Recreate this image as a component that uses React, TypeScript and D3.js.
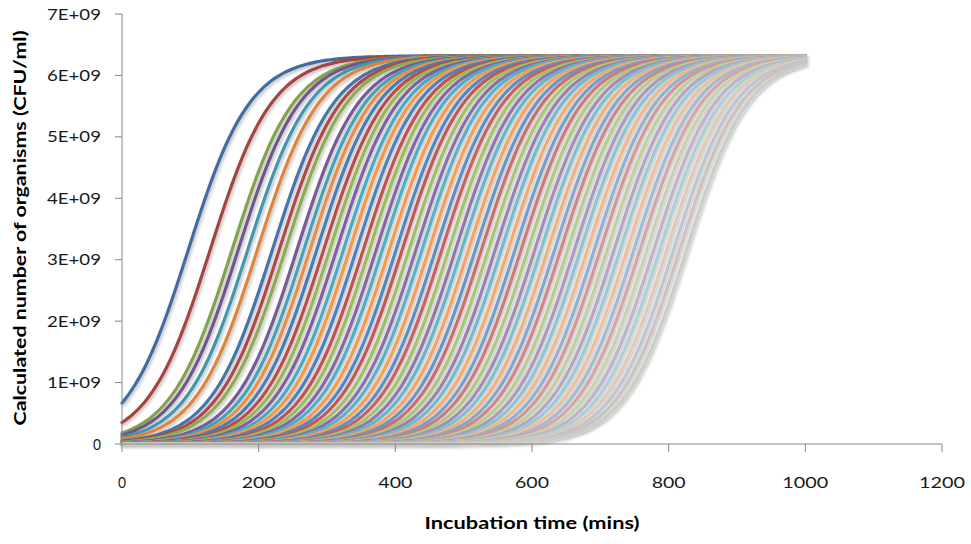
import React from "react";
import * as d3 from "d3";

const W = 971;
const H = 544;

// Axis ticks and labels
const xTicks = [0, 200, 400, 600, 800, 1000, 1200];
const xTickLabels = ["0", "200", "400", "600", "800", "1000", "1200"];
const yTicks = [0, 1e9, 2e9, 3e9, 4e9, 5e9, 6e9, 7e9];
const yTickLabels = ["0", "1E+09", "2E+09", "3E+09", "4E+09", "5E+09", "6E+09", "7E+09"];

// Growth model parameters
const capacity = 6.32e9; // plateau (CFU/ml)
const growthRate = 0.022; // per minute
const timeStart = 0;
const timeEnd = 1000;
const timeStep = 5;

// Time (mins) at which each curve reaches half of the plateau
const midpoints = [
  97, 129, 161, 170, 184, 198, 220, 230, 239, 256,
  266, 275, 285, 295, 304, 314, 324, 333, 343, 353,
  362, 372, 381, 391, 401, 410, 420, 430, 439, 449,
  459, 468, 478, 488, 497, 507, 517, 526, 536, 546,
  555, 565, 575, 584, 594, 604, 613, 623, 633, 642,
  652, 662, 671, 681, 691, 700, 710, 720, 729, 739,
  749, 758, 768, 778, 787, 797, 807, 816, 826,
];

const palette = ["#4F81BD", "#C0504D", "#9BBB59", "#8064A2", "#4BACC6", "#F79646"];

const xScale = d3.scaleLinear().domain([0, 1200]).range([122, 942]);
const yScale = d3.scaleLinear().domain([0, 7e9]).range([444, 14]);

const times = d3.range(timeStart, timeEnd + 0.001, timeStep);

function seriesValues(mid: number) {
  return times.map((t) => ({
    t,
    v: capacity / (1 + Math.exp(-growthRate * (t - mid))),
  }));
}

function colorFor(i: number, n: number) {
  const base = palette[i % palette.length];
  const t = i / (n - 1);
  if (t < 0.25) return d3.interpolateRgb(base, "#000000")(0.16 * (1 - t / 0.25));
  const f = Math.pow((t - 0.25) / 0.75, 1.3) * 0.72;
  const c = d3.interpolateRgb(base, "#e2e2e2")(f);
  if (t > 0.93) return d3.interpolateRgb(c, "#c8c8c8")((t - 0.93) / 0.07 * 0.7);
  return c;
}

const line = d3
  .line<{ t: number; v: number }>()
  .x((d) => xScale(d.t))
  .y((d) => yScale(d.v))
  .curve(d3.curveMonotoneX);

const FONT = "Lato, 'Open Sans', 'Liberation Sans', sans-serif";

export default function App() {
  const n = midpoints.length;
  const axisColor = "#868686";
  const x0 = xScale(0);
  const y0 = yScale(0);
  return (
    <svg
      width={W}
      height={H}
      viewBox={`0 0 ${W} ${H}`}
      style={{ position: "absolute", left: 0, top: 0, background: "#fff" }}
    >
      <defs>
        <filter id="shadow" x="-5%" y="-5%" width="110%" height="115%">
          <feDropShadow dx="1.5" dy="2" stdDeviation="1.6" floodColor="#000" floodOpacity="0.25" />
        </filter>
      </defs>
      <rect x={0} y={0} width={W} height={H} fill="#fff" />

      {/* curves */}
      <g filter="url(#shadow)">
        {midpoints.map((m, i) => (
          <path
            key={i}
            d={line(seriesValues(m)) || ""}
            fill="none"
            stroke={colorFor(i, n)}
            strokeWidth={3.2}
            strokeLinecap="round"
            strokeLinejoin="round"
          />
        ))}
      </g>

      {/* y axis */}
      <line x1={x0} x2={x0} y1={yScale(7e9)} y2={y0} stroke={axisColor} strokeWidth={1} />
      {yTicks.map((v, i) => (
        <g key={"yt" + i}>
          <line x1={x0 - 7} x2={x0} y1={yScale(v)} y2={yScale(v)} stroke={axisColor} strokeWidth={1} />
          <text
            x={101}
            y={yScale(v) + 5.5}
            textAnchor="end"
            fontFamily={FONT}
            fontSize={16}
            fill="#1a1a1a"
            textLength={i === 0 ? 8 : 54}
            lengthAdjust="spacingAndGlyphs"
          >
            {yTickLabels[i]}
          </text>
        </g>
      ))}

      {/* x axis */}
      <line x1={x0} x2={xScale(1200)} y1={y0} y2={y0} stroke={axisColor} strokeWidth={1} />
      {xTicks.map((v, i) => (
        <g key={"xt" + i}>
          <line x1={xScale(v)} x2={xScale(v)} y1={y0} y2={y0 + 8} stroke={axisColor} strokeWidth={1} />
          <text
            x={xScale(v)}
            y={488}
            textAnchor="middle"
            fontFamily={FONT}
            fontSize={16}
            fill="#1a1a1a"
            textLength={xTickLabels[i].length === 1 ? 8 : xTickLabels[i].length === 3 ? 34 : 46}
            lengthAdjust="spacingAndGlyphs"
          >
            {xTickLabels[i]}
          </text>
        </g>
      ))}

      {/* axis titles */}
      <text
        x={532}
        y={529}
        textAnchor="middle"
        fontFamily={FONT}
        fontSize={17}
        fontWeight="bold"
        fill="#000"
        textLength={215}
        lengthAdjust="spacingAndGlyphs"
      >
        Incubation time (mins)
      </text>
      <text
        transform={`translate(26, 228) rotate(-90)`}
        x={0}
        y={0}
        textAnchor="middle"
        fontFamily={FONT}
        fontSize={17}
        fontWeight="bold"
        fill="#000"
        textLength={395}
        lengthAdjust="spacingAndGlyphs"
      >
        Calculated number of organisms (CFU/ml)
      </text>
    </svg>
  );
}
